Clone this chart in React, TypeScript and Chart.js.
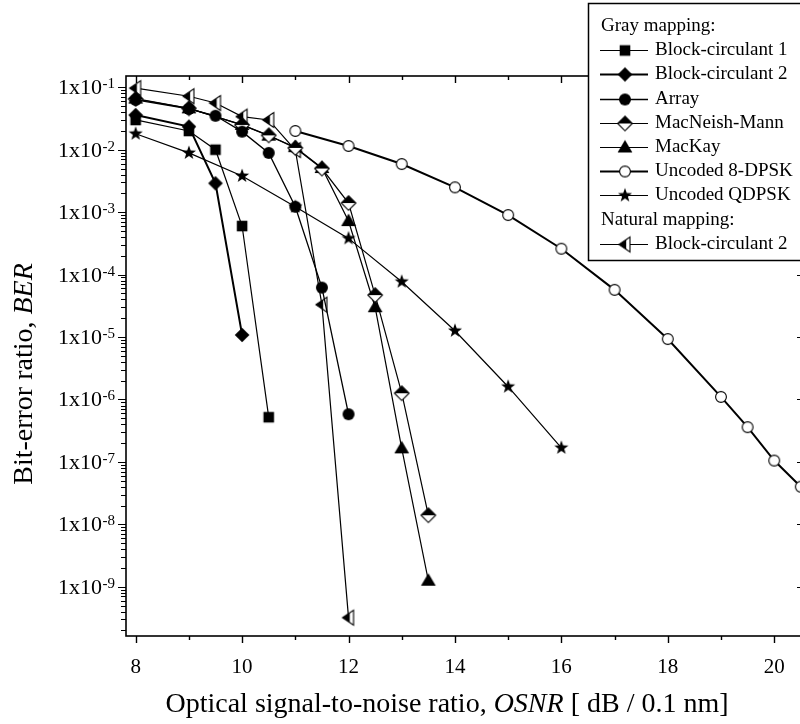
import React, { useEffect, useRef } from 'react';
import { Chart, registerables } from 'chart.js';

Chart.register(...registerables);

const SERIF = '"Liberation Serif", "Times New Roman", serif';

// ---------------- data ----------------
const bc1X = [8, 9, 9.5, 10, 10.5];
const bc1Y = [3.0e-2, 2.0e-2, 1.0e-2, 6.0e-4, 5.2e-7];

const bc2X = [8, 9, 9.5, 10];
const bc2Y = [3.6e-2, 2.35e-2, 2.9e-3, 1.08e-5];

const arrayX = [8, 9, 9.5, 10, 10.5, 11, 11.5, 12];
const arrayY = [6.3e-2, 4.5e-2, 3.5e-2, 1.95e-2, 8.9e-3, 1.22e-3, 6.2e-5, 5.8e-7];

const mnX = [8, 9, 10, 10.5, 11, 11.5, 12, 12.5, 13, 13.5];
const mnY = [6.5e-2, 4.6e-2, 2.5e-2, 1.7e-2, 1.07e-2, 5.0e-3, 1.4e-3, 4.7e-5, 1.26e-6, 1.4e-8];

const mkX = [8, 9, 10, 10.5, 11, 11.5, 12, 12.5, 13, 13.5];
const mkY = [6.6e-2, 4.6e-2, 2.5e-2, 1.68e-2, 1.1e-2, 5.1e-3, 7.2e-4, 3.0e-5, 1.65e-7, 1.25e-9];

const dpsk8X = [11, 12, 13, 14, 15, 16, 17, 18, 19, 19.5, 20, 20.5];
const dpsk8Y = [2.0e-2, 1.15e-2, 5.9e-3, 2.5e-3, 9.0e-4, 2.6e-4, 5.7e-5, 9.3e-6, 1.1e-6, 3.6e-7, 1.05e-7, 4.0e-8];

const qdpskX = [8, 9, 10, 11, 12, 13, 14, 15, 16];
const qdpskY = [1.8e-2, 8.9e-3, 3.8e-3, 1.22e-3, 3.8e-4, 7.7e-5, 1.26e-5, 1.6e-6, 1.68e-7];

const natX = [8, 9, 9.5, 10, 10.5, 11, 11.5, 12];
const natY = [9.7e-2, 7.2e-2, 5.6e-2, 3.4e-2, 3.0e-2, 9.9e-3, 3.3e-5, 3.2e-10];

const seriesLabels = [
  'Block-circulant 1',
  'Block-circulant 2',
  'Array',
  'MacNeish-Mann',
  'MacKay',
  'Uncoded 8-DPSK',
  'Uncoded QDPSK',
  'Block-circulant 2',
];
const groupHeadings = ['Gray mapping:', 'Natural mapping:'];

const xTickValues = [8, 9, 10, 11, 12, 13, 14, 15, 16, 17, 18, 19, 20];
const xTickLabels = ['8', '', '10', '', '12', '', '14', '', '16', '', '18', '', '20'];
const yDecades = [-1, -2, -3, -4, -5, -6, -7, -8, -9, -10];
const yTickLabels = ['1x10', '1x10', '1x10', '1x10', '1x10', '1x10', '1x10', '1x10', '1x10'];

const xTitle = [
  { t: 'Optical signal-to-noise ratio, ', i: false },
  { t: 'OSNR', i: true },
  { t: ' [ dB / 0.1 nm]', i: false },
];
const yTitle = [
  { t: 'Bit-error ratio, ', i: false },
  { t: 'BER', i: true },
];

// ---------------- layout ----------------
const CW = 812;
const CH = 724;
const AREA = { left: 126, top: 76, right: 804, bottom: 636 };
const X_MIN = 7.818;
const X_MAX = 20.56;
const Y_MIN = 1.626e-10;
const Y_MAX = 0.1518;

// ---------------- markers ----------------
function mk(size: number, draw: (c: CanvasRenderingContext2D, cx: number, cy: number) => void) {
  const c = document.createElement('canvas');
  c.width = size;
  c.height = size;
  const ctx = c.getContext('2d')!;
  draw(ctx, size / 2, size / 2);
  return c;
}

function makeMarkers() {
  const S = 20;
  const square = mk(S, (c, cx, cy) => {
    c.fillStyle = '#000';
    c.fillRect(cx - 5.3, cy - 5.3, 10.6, 10.6);
  });
  const diamond = mk(S, (c, cx, cy) => {
    const R = 7.3;
    c.fillStyle = '#000';
    c.beginPath();
    c.moveTo(cx, cy - R);
    c.lineTo(cx + R, cy);
    c.lineTo(cx, cy + R);
    c.lineTo(cx - R, cy);
    c.closePath();
    c.fill();
  });
  const circle = mk(S, (c, cx, cy) => {
    c.fillStyle = '#000';
    c.beginPath();
    c.arc(cx, cy, 6, 0, Math.PI * 2);
    c.fill();
  });
  const halfDiamond = mk(S, (c, cx, cy) => {
    const R = 7.3;
    c.beginPath();
    c.moveTo(cx, cy - R);
    c.lineTo(cx + R, cy);
    c.lineTo(cx, cy + R);
    c.lineTo(cx - R, cy);
    c.closePath();
    c.fillStyle = '#fff';
    c.fill();
    c.beginPath();
    c.moveTo(cx, cy - R);
    c.lineTo(cx + R, cy);
    c.lineTo(cx - R, cy);
    c.closePath();
    c.fillStyle = '#000';
    c.fill();
    c.beginPath();
    c.moveTo(cx, cy - R);
    c.lineTo(cx + R, cy);
    c.lineTo(cx, cy + R);
    c.lineTo(cx - R, cy);
    c.closePath();
    c.strokeStyle = '#000';
    c.lineWidth = 1.1;
    c.stroke();
  });
  const triangle = mk(S, (c, cx, cy) => {
    c.fillStyle = '#000';
    c.beginPath();
    c.moveTo(cx, cy - 7.6);
    c.lineTo(cx + 7.4, cy + 5.1);
    c.lineTo(cx - 7.4, cy + 5.1);
    c.closePath();
    c.fill();
  });
  const openCircle = mk(S, (c, cx, cy) => {
    c.beginPath();
    c.arc(cx, cy, 5.4, 0, Math.PI * 2);
    c.fillStyle = '#fff';
    c.fill();
    c.strokeStyle = '#000';
    c.lineWidth = 1.1;
    c.stroke();
  });
  const star = mk(S, (c, cx, cy) => {
    const R = 7.4;
    const r = 3.0;
    c.fillStyle = '#000';
    c.beginPath();
    for (let k = 0; k < 10; k++) {
      const ang = -Math.PI / 2 + (k * Math.PI) / 5;
      const rr = k % 2 === 0 ? R : r;
      const px = cx + Math.cos(ang) * rr;
      const py = cy + Math.sin(ang) * rr;
      if (k === 0) c.moveTo(px, py);
      else c.lineTo(px, py);
    }
    c.closePath();
    c.fill();
  });
  const halfLeftTri = mk(S, (c, cx, cy) => {
    const path = () => {
      c.beginPath();
      c.moveTo(cx - 6, cy);
      c.lineTo(cx + 5, cy - 7.5);
      c.lineTo(cx + 5, cy + 7.5);
      c.closePath();
    };
    path();
    c.fillStyle = '#fff';
    c.fill();
    c.save();
    c.beginPath();
    c.rect(0, 0, cx + 1.2, S);
    c.clip();
    path();
    c.fillStyle = '#000';
    c.fill();
    c.restore();
    path();
    c.strokeStyle = '#000';
    c.lineWidth = 1.1;
    c.stroke();
  });
  return { square, diamond, circle, halfDiamond, triangle, openCircle, star, halfLeftTri };
}

function pts(xs: number[], ys: number[]) {
  return xs.map((x, i) => ({ x, y: ys[i] }));
}

type Run = { t: string; i: boolean };

function drawRuns(ctx: CanvasRenderingContext2D, runs: Run[], cx: number, cy: number, size: number) {
  const fonts = runs.map((r) => `${r.i ? 'italic ' : ''}${size}px ${SERIF}`);
  let total = 0;
  const widths = runs.map((r, k) => {
    ctx.font = fonts[k];
    const w = ctx.measureText(r.t).width;
    total += w;
    return w;
  });
  let x = cx - total / 2;
  ctx.textAlign = 'left';
  ctx.textBaseline = 'middle';
  runs.forEach((r, k) => {
    ctx.font = fonts[k];
    ctx.fillText(r.t, x, cy);
    x += widths[k];
  });
}

export default function App() {
  const ref = useRef<HTMLCanvasElement | null>(null);

  useEffect(() => {
    const canvas = ref.current;
    if (!canvas) return;
    const M = makeMarkers();

    const ds = (
      label: string,
      xs: number[],
      ys: number[],
      style: HTMLCanvasElement,
      lw: number,
    ) => ({
      label,
      data: pts(xs, ys),
      borderColor: '#000',
      backgroundColor: '#000',
      borderWidth: lw,
      pointStyle: style,
      pointRadius: 6,
      pointHoverRadius: 6,
      tension: 0,
      fill: false,
    });

    const datasets = [
      ds(seriesLabels[0], bc1X, bc1Y, M.square, 1.2),
      ds(seriesLabels[1], bc2X, bc2Y, M.diamond, 2),
      ds(seriesLabels[2], arrayX, arrayY, M.circle, 1.3),
      ds(seriesLabels[3], mnX, mnY, M.halfDiamond, 1.2),
      ds(seriesLabels[4], mkX, mkY, M.triangle, 1.2),
      ds(seriesLabels[5], dpsk8X, dpsk8Y, M.openCircle, 2),
      ds(seriesLabels[6], qdpskX, qdpskY, M.star, 1.2),
      ds(seriesLabels[7], natX, natY, M.halfLeftTri, 1.2),
    ];

    const axesPlugin = {
      id: 'axesFrame',
      afterDraw(chart: any) {
        const { ctx, chartArea: a, scales } = chart;
        const xs = scales.x;
        const ys = scales.y;
        ctx.save();
        ctx.strokeStyle = '#000';
        ctx.fillStyle = '#000';
        ctx.lineWidth = 1.6;
        ctx.strokeRect(a.left, a.top, a.right - a.left, a.bottom - a.top);

        // x ticks
        ctx.lineWidth = 1.4;
        xTickValues.forEach((v, i) => {
          const px = Math.round(xs.getPixelForValue(v)) + 0.5;
          const major = xTickLabels[i] !== '';
          const len = major ? 7 : 4;
          ctx.beginPath();
          ctx.moveTo(px, a.bottom);
          ctx.lineTo(px, a.bottom + len);
          ctx.moveTo(px, a.top);
          ctx.lineTo(px, a.top + len);
          ctx.stroke();
        });
        ctx.font = `21px ${SERIF}`;
        ctx.textAlign = 'center';
        ctx.textBaseline = 'middle';
        xTickValues.forEach((v, i) => {
          if (!xTickLabels[i]) return;
          ctx.fillText(xTickLabels[i], xs.getPixelForValue(v), 667);
        });

        // y ticks
        ctx.lineWidth = 1.2;
        yDecades.forEach((e) => {
          for (let k = 1; k <= 9; k++) {
            const v = k * Math.pow(10, e);
            if (v < Y_MIN || v > Y_MAX) continue;
            const py = Math.round(ys.getPixelForValue(v)) + 0.5;
            const major = k === 1;
            ctx.beginPath();
            ctx.moveTo(a.left - (major ? 8 : 5), py);
            ctx.lineTo(a.left, py);
            ctx.moveTo(a.right - (major ? 7 : 4), py);
            ctx.lineTo(a.right, py);
            ctx.stroke();
          }
        });
        // y labels with superscript exponent
        yTickLabels.forEach((lab, i) => {
          const e = yDecades[i];
          const py = ys.getPixelForValue(Math.pow(10, e));
          const sup = `-${-e}`;
          ctx.textAlign = 'right';
          ctx.textBaseline = 'alphabetic';
          ctx.font = `15px ${SERIF}`;
          const sw = ctx.measureText(sup).width;
          ctx.fillText(sup, 115, py + 1);
          ctx.font = `22px ${SERIF}`;
          ctx.fillText(lab, 115 - sw - 0.5, py + 7);
        });

        // axis titles
        drawRuns(ctx, xTitle, 447, 705, 28);
        ctx.save();
        ctx.translate(25, 374);
        ctx.rotate(-Math.PI / 2);
        drawRuns(ctx, yTitle, 0, 0, 28);
        ctx.restore();

        // legend
        const bx = 588;
        const by = 3;
        const bb = 260;
        ctx.fillStyle = '#fff';
        ctx.fillRect(bx, by, CW - bx + 10, bb - by);
        ctx.strokeStyle = '#000';
        ctx.lineWidth = 1.5;
        ctx.strokeRect(bx + 0.5, by + 0.5, CW - bx + 10, bb - by);
        ctx.fillStyle = '#000';
        ctx.font = `19px ${SERIF}`;
        ctx.textAlign = 'left';
        ctx.textBaseline = 'middle';
        const rowH = 24.2;
        const y0 = 26;
        const rows: any[] = [];
        rows.push({ heading: groupHeadings[0] });
        for (let k = 0; k < 7; k++) rows.push({ ds: k });
        rows.push({ heading: groupHeadings[1] });
        rows.push({ ds: 7 });
        rows.forEach((r, i) => {
          const ry = y0 + i * rowH;
          if (r.heading) {
            ctx.fillText(r.heading, 601, ry);
          } else {
            const d = chart.data.datasets[r.ds];
            ctx.lineWidth = d.borderWidth;
            ctx.beginPath();
            ctx.moveTo(600, Math.round(ry) + 0.5);
            ctx.lineTo(648, Math.round(ry) + 0.5);
            ctx.stroke();
            const img = d.pointStyle as HTMLCanvasElement;
            ctx.drawImage(img, 625 - img.width / 2, Math.round(ry) + 0.5 - img.height / 2);
            ctx.fillText(d.label, 655, ry);
          }
        });
        ctx.restore();
      },
    };

    const chart = new Chart(canvas, {
      type: 'line',
      data: { datasets: datasets as any },
      options: {
        animation: false,
        responsive: false,
        maintainAspectRatio: false,
        parsing: true,
        layout: {
          padding: {
            left: AREA.left,
            top: AREA.top,
            right: CW - AREA.right,
            bottom: CH - AREA.bottom,
          },
        },
        scales: {
          x: { type: 'linear', min: X_MIN, max: X_MAX, display: false },
          y: { type: 'logarithmic', min: Y_MIN, max: Y_MAX, display: false },
        },
        plugins: {
          legend: { display: false },
          tooltip: { enabled: false },
        },
        events: [],
      } as any,
      plugins: [axesPlugin],
    });
    return () => chart.destroy();
  }, []);

  return (
    <div
      style={{
        position: 'fixed',
        left: 0,
        top: 0,
        width: 800,
        height: 724,
        overflow: 'hidden',
        background: '#fff',
      }}
    >
      <canvas ref={ref} width={CW} height={CH} style={{ width: CW, height: CH, display: 'block' }} />
    </div>
  );
}
